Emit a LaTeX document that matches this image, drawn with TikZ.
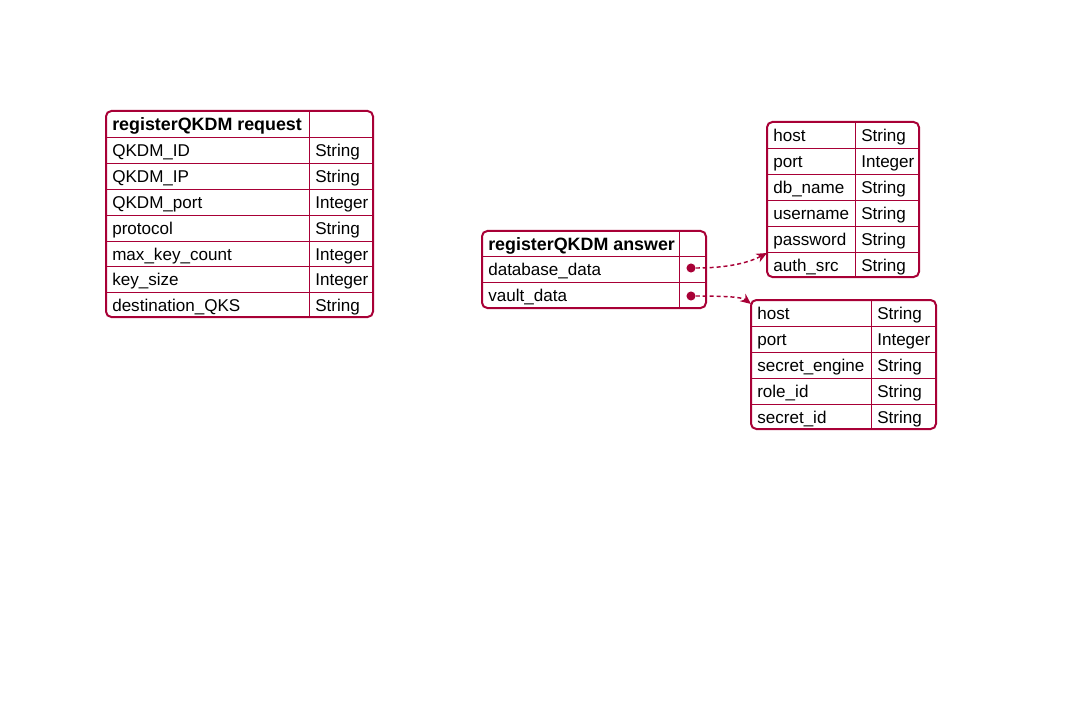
\documentclass[tikz,border=0pt]{standalone}
\usepackage{fontspec}
\setmainfont{Liberation Sans}
\usetikzlibrary{arrows.meta}
\definecolor{crim}{HTML}{A80036}
\begin{document}
\begin{tikzpicture}[x=0.75pt,y=-0.75pt,
  tablebox/.style={draw=crim, line width=1.5pt, rounded corners=4pt, inner sep=0pt, outer sep=0pt, anchor=north west},
  rowline/.style={draw=crim, line width=0.65pt},
  cell/.style={anchor=base west, inner sep=0pt, font=\fontsize{12.8}{15}\selectfont, text=black},
  head/.style={cell, font=\fontsize{13.4}{15}\selectfont\bfseries},
  dot/.style={circle, fill=crim, inner sep=0pt, minimum size=6.8pt},
  link/.style={draw=crim, line width=1.1pt, dash pattern=on 3pt off 2.2pt, -{Stealth[length=8pt,width=7pt,inset=2.5pt]}}]
\useasboundingbox (0,0) rectangle (1091,720);

% ---------- registerQKDM request ----------
\node[tablebox, minimum width=267*0.75pt, minimum height=206*0.75pt] (req) at (106,111) {};
\foreach \y in {137,163,189,215,241,266,292} \draw[rowline] (106,\y) -- (373,\y);
\draw[rowline] (309,111) -- (309,317);
\node[head] (reqh) at (112,130.5) {registerQKDM request};
\foreach \k/\n/\t/\y in {1/QKDM\_ID/String/150, 2/QKDM\_IP/String/176, 3/QKDM\_port/Integer/202,
  4/protocol/String/228, 5/max\_key\_count/Integer/254, 6/key\_size/Integer/279, 7/destination\_QKS/String/305}{
  \node[cell] (reqn\k) at (112,\y+6.5) {\n};
  \node[cell] (reqt\k) at (315,\y+6.5) {\t};
}

% ---------- registerQKDM answer ----------
\node[tablebox, minimum width=224*0.75pt, minimum height=77*0.75pt] (ans) at (482,231) {};
\foreach \y in {256,282} \draw[rowline] (482,\y) -- (706,\y);
\draw[rowline] (679,231) -- (679,308);
\node[head] (ansh) at (488,250) {registerQKDM answer};
\node[cell] (ansn1) at (488,275.5) {database\_data};
\node[cell] (ansn2) at (488,301.5) {vault\_data};
\node[dot] (d1) at (691,268) {};
\node[dot] (d2) at (691,296) {};

% ---------- database table ----------
\node[tablebox, minimum width=152*0.75pt, minimum height=155*0.75pt] (db) at (767,122) {};
\foreach \y in {148,174,200,226,252} \draw[rowline] (767,\y) -- (919,\y);
\draw[rowline] (855,122) -- (855,277);
\foreach \k/\n/\t/\y in {1/host/String/135, 2/port/Integer/161, 3/db\_name/String/187,
  4/username/String/213, 5/password/String/239, 6/auth\_src/String/264.5}{
  \node[cell] (dbn\k) at (773,\y+6.5) {\n};
  \node[cell] (dbt\k) at (861,\y+6.5) {\t};
}

% ---------- vault table ----------
\node[tablebox, minimum width=185*0.75pt, minimum height=129*0.75pt] (vault) at (751,300) {};
\foreach \y in {326,352,378,404} \draw[rowline] (751,\y) -- (936,\y);
\draw[rowline] (871,300) -- (871,429);
\foreach \k/\n/\t/\y in {1/host/String/313, 2/port/Integer/339, 3/secret\_engine/String/365,
  4/role\_id/String/391, 5/secret\_id/String/416.5}{
  \node[cell] (vn\k) at (757,\y+6.5) {\n};
  \node[cell] (vt\k) at (877,\y+6.5) {\t};
}

% ---------- connectors ----------
\coordinate (e1) at (767,253);
\coordinate (e2) at (751,304);
\draw[link] (d1) .. controls (730,268) and (750,262) .. (e1);
\draw[link] (d2) .. controls (725,296) and (742,297) .. (e2);
\end{tikzpicture}
\end{document}
